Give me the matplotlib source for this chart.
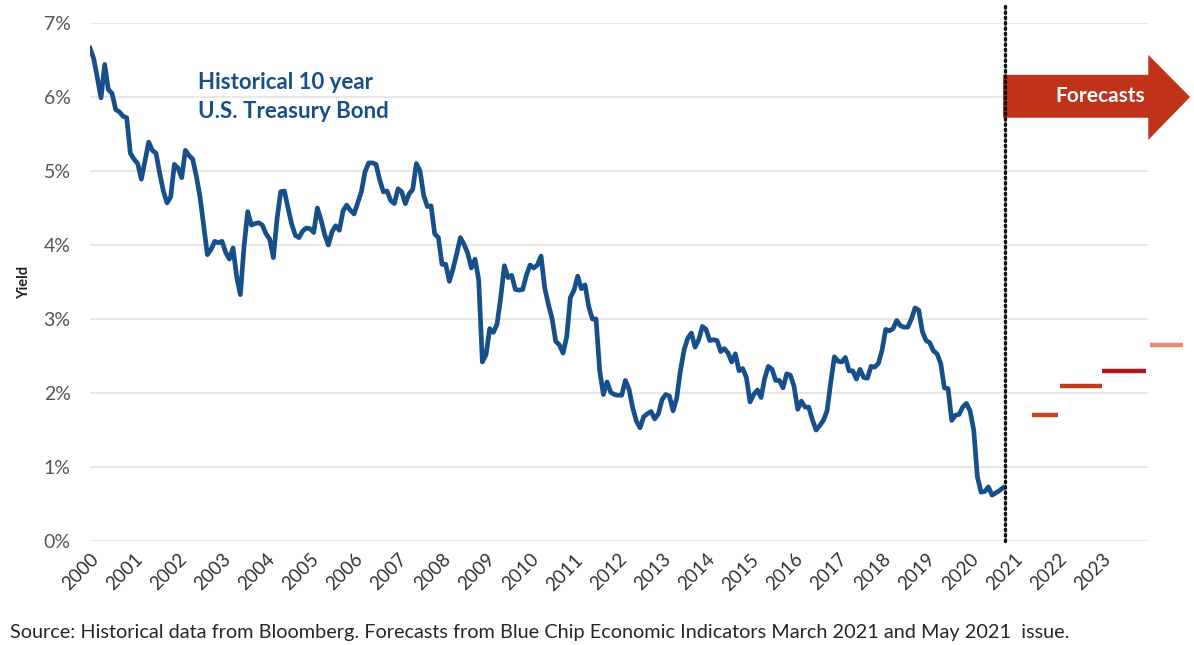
import numpy as np
import matplotlib.pyplot as plt
from matplotlib.patches import Polygon

plt.rcParams['font.family'] = ['Lato', 'DejaVu Sans']

# Monthly 10 year Treasury yield (%), Jan 2000 - Oct 2020
y2000 = [6.66, 6.52, 6.26, 5.99, 6.44, 6.10, 6.05, 5.83, 5.80, 5.74, 5.72, 5.24]
y2001 = [5.16, 5.10, 4.89, 5.14, 5.39, 5.28, 5.24, 4.97, 4.73, 4.57, 4.65, 5.09]
y2002 = [5.04, 4.91, 5.28, 5.21, 5.16, 4.93, 4.65, 4.26, 3.87, 3.94, 4.05, 4.03]
y2003 = [4.05, 3.90, 3.81, 3.96, 3.57, 3.33, 3.98, 4.45, 4.27, 4.29, 4.30, 4.27]
y2004 = [4.15, 4.08, 3.83, 4.35, 4.72, 4.73, 4.50, 4.28, 4.13, 4.10, 4.19, 4.23]
y2005 = [4.22, 4.17, 4.50, 4.34, 4.14, 4.00, 4.18, 4.26, 4.20, 4.46, 4.54, 4.47]
y2006 = [4.42, 4.57, 4.72, 4.99, 5.11, 5.11, 5.09, 4.88, 4.72, 4.73, 4.60, 4.56]
y2007 = [4.76, 4.72, 4.56, 4.69, 4.75, 5.10, 5.00, 4.67, 4.52, 4.53, 4.15, 4.10]
y2008 = [3.74, 3.74, 3.51, 3.68, 3.88, 4.10, 4.01, 3.89, 3.69, 3.81, 3.53, 2.42]
y2009 = [2.52, 2.87, 2.82, 2.93, 3.29, 3.72, 3.56, 3.59, 3.40, 3.39, 3.40, 3.59]
y2010 = [3.73, 3.69, 3.73, 3.85, 3.42, 3.20, 3.01, 2.70, 2.65, 2.54, 2.76, 3.29]
y2011 = [3.39, 3.58, 3.41, 3.46, 3.17, 3.00, 3.00, 2.30, 1.98, 2.15, 2.01, 1.98]
y2012 = [1.97, 1.97, 2.17, 2.05, 1.80, 1.62, 1.53, 1.68, 1.72, 1.75, 1.65, 1.72]
y2013 = [1.91, 1.98, 1.96, 1.76, 1.93, 2.30, 2.58, 2.74, 2.81, 2.62, 2.72, 2.90]
y2014 = [2.86, 2.71, 2.72, 2.71, 2.56, 2.60, 2.54, 2.42, 2.53, 2.30, 2.33, 2.21]
y2015 = [1.88, 1.98, 2.04, 1.94, 2.20, 2.36, 2.32, 2.17, 2.17, 2.07, 2.26, 2.24]
y2016 = [2.09, 1.78, 1.89, 1.81, 1.81, 1.64, 1.50, 1.56, 1.63, 1.76, 2.14, 2.49]
y2017 = [2.43, 2.42, 2.48, 2.30, 2.30, 2.19, 2.32, 2.21, 2.20, 2.36, 2.35, 2.40]
y2018 = [2.58, 2.86, 2.84, 2.87, 2.98, 2.91, 2.89, 2.89, 3.00, 3.15, 3.12, 2.83]
y2019 = [2.71, 2.68, 2.57, 2.53, 2.40, 2.07, 2.06, 1.63, 1.70, 1.71, 1.81, 1.86]
y2020 = [1.76, 1.50, 0.87, 0.66, 0.67, 0.73, 0.62, 0.65, 0.68, 0.72]

history = (y2000 + y2001 + y2002 + y2003 + y2004 + y2005 + y2006 + y2007
           + y2008 + y2009 + y2010 + y2011 + y2012 + y2013 + y2014 + y2015
           + y2016 + y2017 + y2018 + y2019 + y2020)
months = 2000 + np.arange(len(history)) / 12

# Consensus forecasts: start, end (in years) and yield
fc_start = [2021.4, 2022.05, 2023.0, 2024.1]
fc_end = [2022.0, 2023.0, 2024.0, 2024.85]
fc_yield = [1.7, 2.1, 2.3, 2.65]
fc_colors = ['#c9421f', '#c43b1d', '#b3161f', '#e98a74']

years = list(range(2000, 2024))
yticks = list(range(0, 8))

blue = '#174f8b'
red = '#c1321b'

fig = plt.figure(figsize=(11.94, 6.45), dpi=100)
ax = fig.add_axes([0.0754, 0.1612, 0.9213, 0.8031])

# light horizontal grid, stops before the last forecast
ax.hlines(yticks, 1999.95, 2024.05, color='#e4e4e4', lw=1.2, zorder=0)

ax.plot(months, history, color=blue, lw=3.4, solid_joinstyle='round', zorder=3)

for x0, x1, v, c in zip(fc_start, fc_end, fc_yield, fc_colors):
    ax.plot([x0, x1], [v, v], color=c, lw=3.2, solid_capstyle='butt', clip_on=False, zorder=3)

# dotted divider between history and forecasts
ax.plot([2020.8, 2020.8], [0, 7.25], color='#111111', lw=2.4, ls=(0, (0.5, 1.1)),
        dash_capstyle='round', clip_on=False, zorder=4)

# forecast arrow
arrow = Polygon([(2020.75, 6.30), (2024.05, 6.30), (2024.05, 6.57), (2025.0, 6.0),
                 (2024.05, 5.42), (2024.05, 5.72), (2020.75, 5.72)],
                closed=True, facecolor=red, edgecolor='none', clip_on=False, zorder=2)
ax.add_patch(arrow)
ax.text(2022.95, 6.01, 'Forecasts', color='white', fontsize=15, fontweight='bold',
        ha='center', va='center', zorder=5)

ax.text(2002.45, 6.0, 'Historical 10 year\nU.S. Treasury Bond', color=blue,
        fontsize=16, fontweight='bold', ha='left', va='center', linespacing=1.5)

ax.set_xlim(2000, 2025)
ax.set_ylim(0, 7)
ax.set_yticks(yticks)
ax.set_yticklabels([f'{v}%' for v in yticks], fontsize=14, color='#555555')
ax.set_xticks(years)
ax.set_xticklabels([str(y) for y in years], rotation=45, ha='right',
                   rotation_mode='anchor', fontsize=13.5, color='#333333')
ax.tick_params(length=0)
ax.tick_params(axis='y', pad=14)
ax.tick_params(axis='x', pad=7)
ax.set_ylabel('Yield', fontsize=10.5, fontweight='bold', color='#222222', labelpad=9)
for s in ax.spines.values():
    s.set_visible(False)

fig.text(0.008, 0.006, 'Source: Historical data from Bloomberg. Forecasts from Blue Chip '
         'Economic Indicators March 2021 and May 2021  issue.',
         fontsize=14.3, color='#262626', ha='left', va='bottom')

fig.savefig('out.png', dpi=100, facecolor='white')
